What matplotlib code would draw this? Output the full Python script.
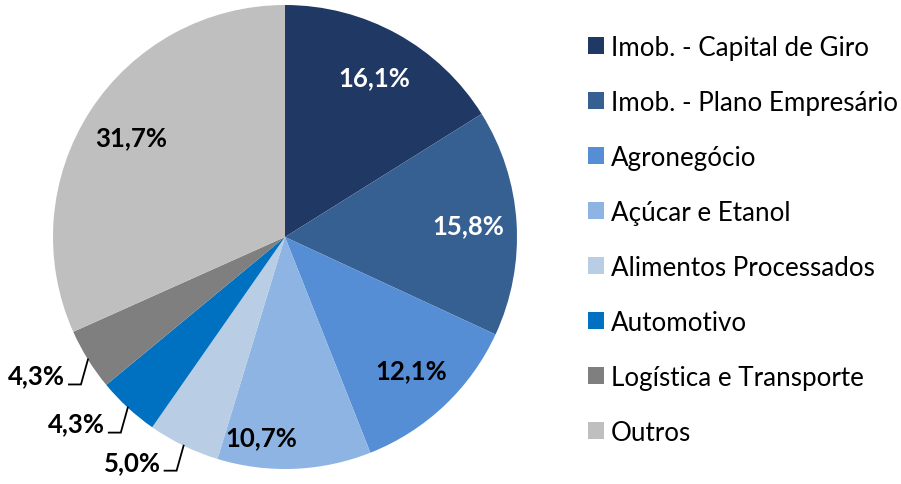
import matplotlib
matplotlib.use("Agg")
import matplotlib.pyplot as plt
from matplotlib.patches import Patch
import numpy as np

categories = ["Imob. - Capital de Giro", "Imob. - Plano Empresário", "Agronegócio",
              "Açúcar e Etanol", "Alimentos Processados", "Automotivo",
              "Logística e Transporte", "Outros"]
values = [16.1, 15.8, 12.1, 10.7, 5.0, 4.3, 4.3, 31.7]
labels = ["16,1%", "15,8%", "12,1%", "10,7%", "5,0%", "4,3%", "4,3%", "31,7%"]
colors = ["#1F3864", "#376092", "#558ED5", "#8EB4E3", "#B9CDE5", "#0070C0", "#7F7F7F", "#BFBFBF"]
label_colors = ["white", "white", "black", "black", "black", "black", "black", "black"]
outside = [False, False, False, False, True, True, True, False]

plt.rcParams['font.family'] = ['Lato', 'DejaVu Sans']

W, H = 901, 485
fig = plt.figure(figsize=(W / 100, H / 100), dpi=100)
ax = fig.add_axes([0, 0, 1, 1])

cx, cy, R = 285, H - 238, 232
wedges, _ = ax.pie(values, colors=colors, startangle=90, counterclock=False,
                   center=(cx, cy), radius=R, frame=True,
                   wedgeprops=dict(linewidth=0))
ax.set_xlim(0, W)
ax.set_ylim(0, H)
ax.set_aspect('equal')
ax.axis('off')

# special nudges for inside labels (angle offset deg, radius fraction)
inside_adj = {3: (-9, 0.87)}
LFS = 18.5

for i, w in enumerate(wedges):
    mid = np.deg2rad((w.theta1 + w.theta2) / 2)
    if not outside[i]:
        dang, frac = inside_adj.get(i, (0, 0.79))
        a = mid + np.deg2rad(dang)
        x = cx + frac * R * np.cos(a)
        y = cy + frac * R * np.sin(a)
        ax.text(x, y, labels[i], ha='center', va='center', fontsize=LFS,
                fontweight='bold', color=label_colors[i])
    else:
        x0 = cx + R * np.cos(mid)
        y0 = cy + R * np.sin(mid)
        x1, y1 = x0 - 7, y0 - 25
        x2 = x1 - 12
        ax.plot([x0, x1, x2], [y0, y1, y1], color='black', lw=1.3,
                solid_joinstyle='miter')
        ax.text(x2 - 4, y1 + 1, labels[i], ha='right', va='baseline', fontsize=LFS,
                fontweight='bold', color='black')

handles = [Patch(facecolor=c, edgecolor='none') for c in colors]
leg = ax.legend(handles, categories, loc='upper left', bbox_to_anchor=(588 / W, 1 - 36 / H),
                frameon=False, fontsize=18.7, handlelength=0.62, handleheight=0.62,
                handletextpad=0.27, labelspacing=1.155, borderaxespad=0, borderpad=0)

fig.savefig("out.png", dpi=100)
